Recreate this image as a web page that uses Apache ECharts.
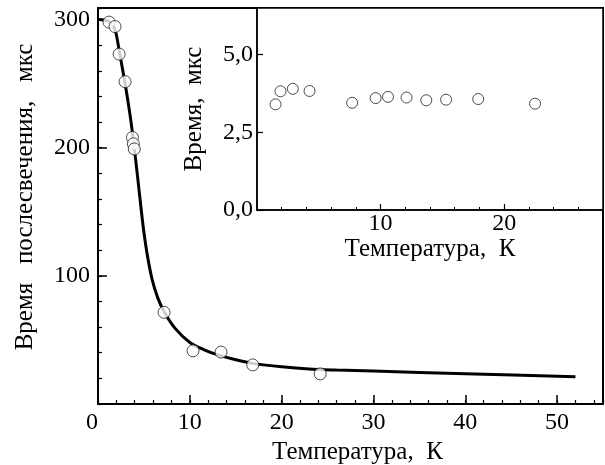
<!DOCTYPE html>
<html>
<head>
<meta charset="utf-8">
<script src="https://cdn.jsdelivr.net/npm/echarts@6/dist/echarts.min.js"></script>
<style>
  html, body { margin: 0; background: #fff; }
  #chart { width: 605px; height: 465px; }
</style>
</head>
<body>
<div id="chart"></div>
<script>
// main plot: afterglow time vs temperature
const mainPoints = [
  [1.2, 298], [1.85, 294.5], [2.3, 273], [2.95, 251.5], [3.75, 208], [3.85, 203],
  [3.95, 199], [7.2, 71.5], [10.35, 41.5], [13.4, 40.5], [16.85, 30.5], [24.2, 23.5]
];
const fitCurve = [
  [0, 300], [0.8, 299.5], [1.4, 297.5], [1.9, 291], [2.3, 276], [2.95, 250],
  [3.5, 225], [3.9, 203], [4.3, 178], [4.7, 152], [5.0, 134], [5.4, 115],
  [5.9, 97], [6.5, 83], [7.2, 72], [8.4, 59], [10, 48], [11.5, 42.5], [13, 38.5],
  [15, 34.5], [17, 31.5], [20, 29], [23, 27.3], [26, 26.5], [30, 25.7], [40, 23.6], [52, 21.3]
];
// inset: short component
const insetPoints = [
  [1.5, 3.40], [1.9, 3.82], [2.9, 3.90], [4.25, 3.83], [7.7, 3.45], [9.6, 3.60],
  [10.6, 3.64], [12.1, 3.62], [13.7, 3.53], [15.3, 3.55], [17.9, 3.57], [22.5, 3.42]
];

const mainXRange = [0, 55];
const mainYRange = [0, 309];
const insetXRange = [0, 28];
const insetYRange = [0, 6.5];

const serif = "'Liberation Serif', 'Times New Roman', serif";
const black = '#000';
const labelSize = 24;
const nameSize = 25;

function majorAxis(range, interval, extra) {
  return Object.assign({
    type: 'value',
    min: range[0],
    max: range[1],
    interval: interval,
    splitLine: { show: false },
    axisLine: { show: true, lineStyle: { color: black, width: 2 } },
    axisTick: { show: true, inside: true, length: 9, lineStyle: { color: black, width: 1.5 } },
    axisLabel: { color: black, fontFamily: serif, fontSize: labelSize, showMaxLabel: false },
    nameTextStyle: { color: black, fontFamily: serif, fontSize: nameSize }
  }, extra);
}

function minorAxis(range, interval, extra) {
  return Object.assign({
    type: 'value',
    min: range[0],
    max: range[1],
    interval: interval,
    splitLine: { show: false },
    axisLine: { show: false },
    axisLabel: { show: false },
    axisTick: { show: true, inside: true, length: 4, lineStyle: { color: black, width: 1.2 } }
  }, extra);
}

const chart = echarts.init(document.getElementById('chart'));
chart.setOption({
  backgroundColor: '#fff',
  animation: false,
  grid: [
    {
      left: 98, top: 8, right: 2, bottom: 61, containLabel: false, outerBoundsMode: 'none',
      show: true, borderColor: black, borderWidth: 2, backgroundColor: '#fff'
    },
    {
      left: 257, top: 8, right: 2, height: 202, containLabel: false, outerBoundsMode: 'none',
      show: true, borderColor: black, borderWidth: 1.5, backgroundColor: '#fff', z: 5
    }
  ],
  xAxis: [
    majorAxis(mainXRange, 10, {
      gridIndex: 0, position: 'bottom',
      name: 'Температура,  К', nameLocation: 'middle', nameGap: 32,
      nameTextStyle: { color: black, fontFamily: serif, fontSize: nameSize, padding: [0, 0, 0, 14] },
      axisLabel: {
        color: black, fontFamily: serif, fontSize: labelSize, margin: 7, showMaxLabel: false,
        formatter: v => (v === 0 ? '{o|0}' : String(v)),
        rich: { o: { fontFamily: serif, fontSize: labelSize, color: black, padding: [0, 12, 0, 0] } }
      }
    }),
    minorAxis(mainXRange, 2, { gridIndex: 0, position: 'bottom' }),
    majorAxis(insetXRange, 10, {
      gridIndex: 1, position: 'bottom', z: 6,
      name: 'Температура,  К', nameLocation: 'middle', nameGap: 26,
      axisLine: { show: true, lineStyle: { color: black, width: 1.5 } },
      axisTick: { show: true, inside: true, length: 6, lineStyle: { color: black, width: 1.2 } },
      axisLabel: { color: black, fontFamily: serif, fontSize: labelSize, margin: 2, showMinLabel: false, showMaxLabel: false }
    }),
    minorAxis(insetXRange, 2, { gridIndex: 1, position: 'bottom', z: 6, axisTick: { show: true, inside: true, length: 3, lineStyle: { color: black, width: 1 } } })
  ],
  yAxis: [
    majorAxis(mainYRange, 100, {
      gridIndex: 0, position: 'left',
      name: 'Время   послесвечения,   мкс', nameLocation: 'middle', nameGap: 60,
      nameTextStyle: { color: black, fontFamily: serif, fontSize: nameSize, padding: [0, 0, 0, 18] },
      axisLabel: { color: black, fontFamily: serif, fontSize: labelSize, margin: 8, showMinLabel: false, showMaxLabel: false }
    }),
    minorAxis(mainYRange, 20, { gridIndex: 0, position: 'left' }),
    majorAxis(insetYRange, 2.5, {
      gridIndex: 1, position: 'left', z: 6,
      name: 'Время,  мкс', nameLocation: 'middle', nameGap: 50,
      axisLine: { show: true, lineStyle: { color: black, width: 1.5 } },
      axisTick: { show: true, inside: true, length: 6, lineStyle: { color: black, width: 1.2 } },
      axisLabel: {
        color: black, fontFamily: serif, fontSize: labelSize, margin: 4, showMaxLabel: false,
        formatter: v => v.toFixed(1).replace('.', ',')
      }
    })
  ],
  series: [
    {
      type: 'line', xAxisIndex: 0, yAxisIndex: 0, data: fitCurve,
      smooth: 0.3, symbol: 'none',
      lineStyle: { color: black, width: 3 }, z: 2
    },
    {
      type: 'scatter', xAxisIndex: 0, yAxisIndex: 0, data: mainPoints,
      symbol: 'circle', symbolSize: 12,
      itemStyle: { color: '#fff', borderColor: '#222', borderWidth: 1 }, z: 3
    },
    {
      type: 'scatter', xAxisIndex: 2, yAxisIndex: 2, data: insetPoints,
      symbol: 'circle', symbolSize: 11,
      itemStyle: { color: '#fff', borderColor: '#222', borderWidth: 1 }, z: 7
    }
  ]
});
</script>
</body>
</html>
